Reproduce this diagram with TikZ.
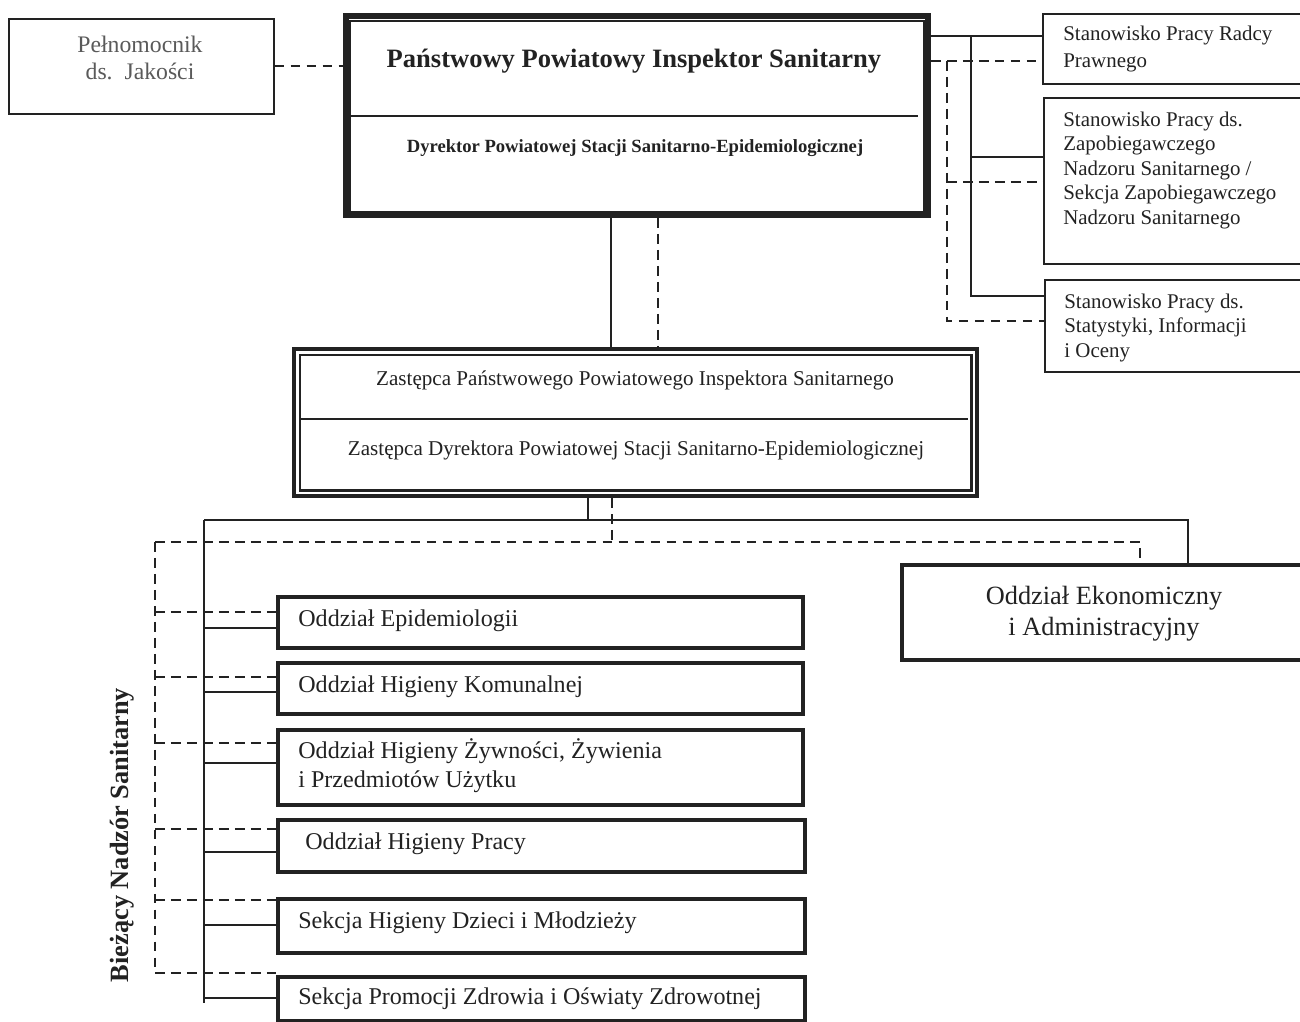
\documentclass[tikz,border=0pt]{standalone}
\usepackage{fontspec}
\setmainfont{Liberation Serif}
\definecolor{ink}{HTML}{222222}
\definecolor{greyink}{HTML}{5A5A5A}
\begin{document}
\begin{tikzpicture}[x=0.02cm,y=-0.02cm,
  thinbox/.style={draw=ink, line width=1.0pt, anchor=north west, inner sep=0pt},
  thickbox/.style={draw=ink, line width=2.3pt, anchor=north west, inner sep=0pt},
  conn/.style={draw=ink, line width=0.9pt},
  dconn/.style={draw=ink, line width=0.9pt, dash pattern=on 5.5pt off 3.6pt},
  lbl/.style={text=ink, inner sep=0pt, anchor=base west, font=\fontsize{13.7}{16.5}\selectfont},
  rlbl/.style={text=ink, inner sep=0pt, anchor=base west, align=left, font=\fontsize{11.9}{13.9}\selectfont},
]
\clip (0,0) rectangle (1300,1021);
\fill[white] (0,0) rectangle (1300,1021);

% ---------- top boxes ----------
\node[thinbox, minimum width=5.30cm, minimum height=1.90cm] (pel) at (8,18) {};
\node[text=greyink, align=center, inner sep=0pt, font=\fontsize{13.5}{15.4}\selectfont] (peltxt) at (140,58) {Pełnomocnik\\ds.~~Jakości};

\node[draw=ink, line width=3.4pt, anchor=north west, inner sep=0pt, minimum width=11.64cm, minimum height=3.98cm] (ppis) at (343,13) {};
\draw[ink, line width=0.9pt] ([shift={(7,8)}]ppis.north west) rectangle ([shift={(-7,-6)}]ppis.south east);
\draw[ink, line width=0.9pt] (350,116) -- (918,116);
\node[text=ink, inner sep=0pt, font=\bfseries\fontsize{15.1}{18}\selectfont] (title) at (634,61) {Państwowy Powiatowy Inspektor Sanitarny};
\node[text=ink, inner sep=0pt, font=\bfseries\fontsize{10.6}{13}\selectfont] (dyr) at (635,148) {Dyrektor Powiatowej Stacji Sanitarno-Epidemiologicznej};

% right boxes
\node[thinbox, minimum width=6cm, minimum height=1.40cm] (r1) at (1042,13) {};
\node[thinbox, minimum width=6cm, minimum height=3.32cm] (r2) at (1043,97) {};
\node[thinbox, minimum width=6cm, minimum height=1.84cm] (r3) at (1044,279) {};
\node[rlbl, font=\fontsize{11.9}{15.1}\selectfont] (r1txt) at (1063,67.5) {Stanowisko Pracy Radcy\\Prawnego};
\node[rlbl] (r2txt) at (1063,224) {Stanowisko Pracy ds.\\Zapobiegawczego\\Nadzoru Sanitarnego /\\Sekcja Zapobiegawczego\\Nadzoru Sanitarnego};
\node[rlbl] (r3txt) at (1064,357) {Stanowisko Pracy ds.\\Statystyki, Informacji\\i Oceny};

% ---------- deputy box ----------
\node[draw=ink, line width=2.3pt, anchor=north west, inner sep=0pt, minimum width=13.66cm, minimum height=2.94cm] (zast) at (292,347) {};
\draw[ink, line width=1.7pt] ([shift={(8,8)}]zast.north west) rectangle ([shift={(-7,-8)}]zast.south east);
\draw[ink, line width=0.9pt] (300,419) -- (968,419);
\node[text=ink, inner sep=0pt, font=\fontsize{12}{14}\selectfont] (zt1) at (635,380) {Zastępca Państwowego Powiatowego Inspektora Sanitarnego};
\node[text=ink, inner sep=0pt, font=\fontsize{12}{14}\selectfont] (zt2) at (636,450) {Zastępca Dyrektora Powiatowej Stacji Sanitarno-Epidemiologicznej};

% ---------- economic box ----------
\node[thickbox, minimum width=10cm, minimum height=1.90cm] (ek) at (900,563) {};
\node[text=ink, align=center, inner sep=0pt, font=\fontsize{15}{17.6}\selectfont] (ektxt) at (1104,614) {Oddział Ekonomiczny\\i Administracyjny};

% ---------- departments ----------
\node[thickbox, minimum width=10.50cm, minimum height=1.02cm] (b1) at (276,595) {};
\node[thickbox, minimum width=10.50cm, minimum height=1.02cm] (b2) at (276,661) {};
\node[thickbox, minimum width=10.50cm, minimum height=1.50cm] (b3) at (276,728) {};
\node[thickbox, minimum width=10.54cm, minimum height=1.04cm] (b4) at (276,818) {};
\node[thickbox, minimum width=10.54cm, minimum height=1.08cm] (b5) at (276,897) {};
\node[thickbox, minimum width=10.54cm, minimum height=0.88cm] (b6) at (276,975) {};
\node[lbl] (b1t) at (298,626) {Oddział Epidemiologii};
\node[lbl] (b2t) at (298,692) {Oddział Higieny Komunalnej};
\node[lbl, align=left, font=\fontsize{13.7}{16.5}\selectfont] (b3t) at (298,787) {Oddział Higieny Żywności, Żywienia\\i Przedmiotów Użytku};
\node[lbl] (b4t) at (305,849) {Oddział Higieny Pracy};
\node[lbl] (b5t) at (298,928) {Sekcja Higieny Dzieci i Młodzieży};
\node[lbl] (b6t) at (298,1004) {Sekcja Promocji Zdrowia i Oświaty Zdrowotnej};

\node[text=ink, inner sep=0pt, rotate=90, font=\bfseries\fontsize{15}{18}\selectfont] (vlab) at (122,835) {Bieżący Nadzór Sanitarny};

% ---------- connectors ----------
\coordinate (sbus) at (971,0);
\coordinate (dbus) at (947,0);
\draw[dconn] (pel.east |- 0,66) -- (ppis.west |- 0,66);

\draw[conn] (ppis.east |- 0,36) -- (r1.west |- 0,36);
\draw[conn] (sbus |- 0,36) -- (sbus |- 0,296) -- (r3.west |- 0,296);
\draw[conn] (sbus |- 0,157) -- (r2.west |- 0,157);

\draw[dconn] (ppis.east |- 0,61) -- (r1.west |- 0,61);
\draw[dconn] (dbus |- 0,61) -- (dbus |- 0,321) -- (r3.west |- 0,321);
\draw[dconn] (dbus |- 0,182) -- (r2.west |- 0,182);

\draw[conn] (ppis.south -| 611,0) -- (zast.north -| 611,0);
\draw[dconn] (ppis.south -| 658,0) -- (zast.north -| 658,0);

\coordinate (sj) at (588,520);
\coordinate (dj) at (612,542);
\coordinate (sleft) at (204,520);
\coordinate (dleft) at (155,542);
\draw[conn] (zast.south -| sj) -- (sj);
\draw[dconn] (zast.south -| dj) -- (dj);
\draw[conn] (sleft) -- (1188,520) -- (ek.north -| 1188,0);
\draw[dconn] (dleft) -- (1140,542) -- (ek.north -| 1140,0);

\draw[conn] (sleft) -- (204,1003);
\foreach \n/\yy in {b1/628,b2/692,b3/763,b4/852,b5/925,b6/998}
  \draw[conn] (204,\yy) -- (\n.west |- 0,\yy);

\draw[dconn] (dleft) -- (155,973);
\foreach \n/\yy in {b1/612,b2/677,b3/743,b4/829,b5/900,b6/973}
  \draw[dconn] (155,\yy) -- (\n.west |- 0,\yy);
\end{tikzpicture}
\end{document}
